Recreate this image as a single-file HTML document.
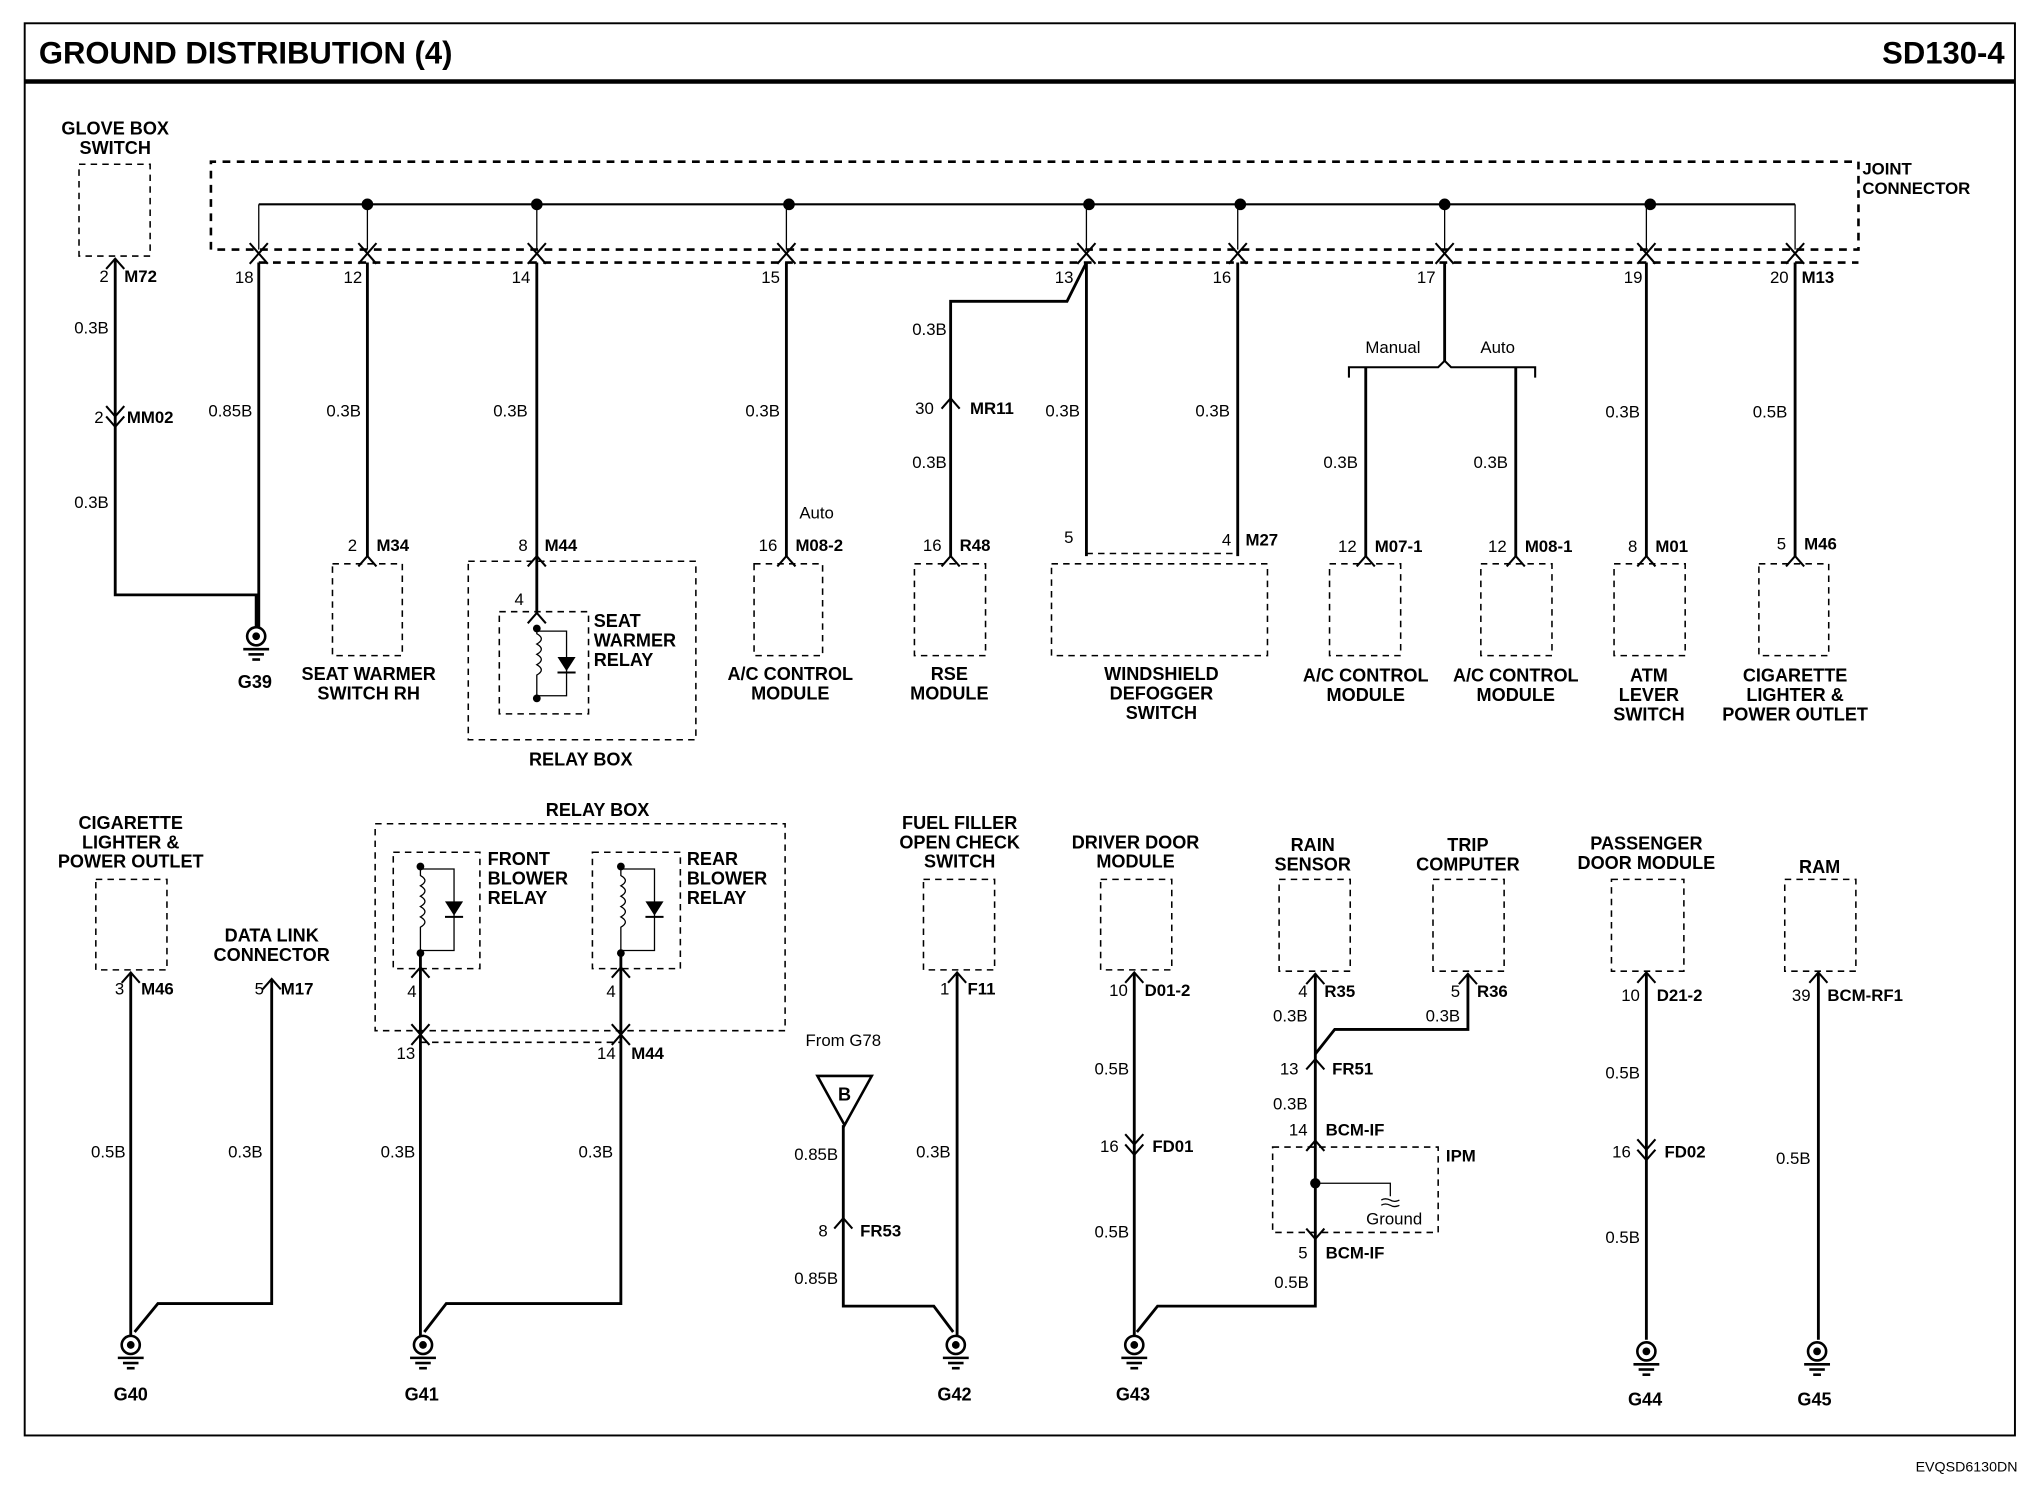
<!DOCTYPE html>
<html><head><meta charset="utf-8"><style>
html,body{margin:0;padding:0;background:#fff;}
svg{display:block;}
text{font-family:"Liberation Sans",Arial,sans-serif;fill:#000;}
.b{font-weight:bold;font-size:14px;}
.n{font-size:13px;}
.w{fill:none;stroke:#000;stroke-width:2.2;}
.t{fill:none;stroke:#000;stroke-width:1;}
.d{fill:none;stroke:#000;stroke-width:2;stroke-dasharray:6,5;}
.dt{fill:none;stroke:#000;stroke-width:1.2;stroke-dasharray:5,4;}
</style></head><body>
<svg width="2028" height="1504" viewBox="0 0 1568 1163" xmlns="http://www.w3.org/2000/svg">
<defs>
<g id="gnd"><circle cx="0" cy="0" r="7" fill="#fff" stroke="#000" stroke-width="2"/><circle cx="0" cy="0" r="3" fill="#000"/><line x1="-10" y1="10" x2="10" y2="10" stroke="#000" stroke-width="2"/><line x1="-6" y1="14" x2="6" y2="14" stroke="#000" stroke-width="2"/><line x1="-3" y1="18" x2="3" y2="18" stroke="#000" stroke-width="2"/></g>
<path id="vu" d="M-7,-8 L0,0 L7,-8" fill="none" stroke="#000" stroke-width="1.6"/>
<path id="va" d="M-7,8 L0,0 L7,8" fill="none" stroke="#000" stroke-width="1.6"/>
</defs>
<!-- frame -->
<rect x="19" y="18" width="1539" height="1092" fill="none" stroke="#000" stroke-width="1.5"/>
<line x1="19" y1="63" x2="1558" y2="63" stroke="#000" stroke-width="3.5"/>
<text x="30" y="49" style="font-size:24px;font-weight:bold">GROUND DISTRIBUTION (4)</text>
<text x="1550" y="49" text-anchor="end" style="font-size:24px;font-weight:bold">SD130-4</text>
<text x="1560" y="1138" text-anchor="end" style="font-size:11px">EVQSD6130DN</text>

<!-- joint connector -->
<path class="d" d="M163,193 L163,125 L1437,125 L1437,193 L163,193"/>
<line class="d" x1="200" y1="203" x2="1437" y2="203"/>
<text x="1440" y="135" class="b" style="font-size:13px">JOINT</text>
<text x="1440" y="150" class="b" style="font-size:13px">CONNECTOR</text>
<line class="w" x1="200" y1="158" x2="1388" y2="158" style="stroke-width:1.6"/>
<line class="t" x1="200" y1="158" x2="200" y2="193"/>
<line class="t" x1="1388" y1="158" x2="1388" y2="193"/>
<g fill="#000"><circle cx="284" cy="158" r="4.5"/><circle cx="415" cy="158" r="4.5"/><circle cx="610" cy="158" r="4.5"/><circle cx="842" cy="158" r="4.5"/><circle cx="959" cy="158" r="4.5"/><circle cx="1117" cy="158" r="4.5"/><circle cx="1276" cy="158" r="4.5"/></g>
<g class="t"><line x1="284" y1="158" x2="284" y2="193"/><line x1="415" y1="158" x2="415" y2="193"/><line x1="608" y1="158" x2="608" y2="193"/><line x1="840" y1="158" x2="840" y2="193"/><line x1="957" y1="158" x2="957" y2="193"/><line x1="1117" y1="158" x2="1117" y2="193"/><line x1="1273" y1="158" x2="1273" y2="193"/></g>
<g>
<use href="#vu" x="200" y="196"/><use href="#va" x="200" y="196"/>
<use href="#vu" x="284" y="196"/><use href="#va" x="284" y="196"/>
<use href="#vu" x="415" y="196"/><use href="#va" x="415" y="196"/>
<use href="#vu" x="608" y="196"/><use href="#va" x="608" y="196"/>
<use href="#vu" x="840" y="196"/><use href="#va" x="840" y="196"/>
<use href="#vu" x="957" y="196"/><use href="#va" x="957" y="196"/>
<use href="#vu" x="1117" y="196"/><use href="#va" x="1117" y="196"/>
<use href="#vu" x="1273" y="196"/><use href="#va" x="1273" y="196"/>
<use href="#vu" x="1388" y="196"/><use href="#va" x="1388" y="196"/>
</g>
<g class="n" text-anchor="end">
<text x="196" y="219">18</text><text x="280" y="219">12</text><text x="410" y="219">14</text><text x="603" y="219">15</text><text x="830" y="219">13</text><text x="952" y="219">16</text><text x="1110" y="219">17</text><text x="1270" y="219">19</text><text x="1383" y="219">20</text>
</g>
<text x="1393" y="219" class="b" style="font-size:13px">M13</text>

<!-- glove box -->
<text x="89" y="104" class="b" text-anchor="middle">GLOVE BOX</text>
<text x="89" y="119" class="b" text-anchor="middle">SWITCH</text>
<rect class="dt" x="61" y="127" width="55" height="71"/>
<use href="#va" x="89" y="200"/>
<path class="w" d="M89,200 L89,460 L198,460 L198,485"/>
<text x="84" y="218" class="n" text-anchor="end">2</text><text x="96" y="218" class="b" style="font-size:13px">M72</text>
<text x="84" y="258" class="n" text-anchor="end">0.3B</text>
<use href="#vu" x="89" y="330"/><use href="#vu" x="89" y="322"/>
<text x="80" y="327" class="n" text-anchor="end">2</text><text x="98" y="327" class="b" style="font-size:13px">MM02</text>
<text x="84" y="393" class="n" text-anchor="end">0.3B</text>
<line class="w" x1="200" y1="203" x2="200" y2="485"/>
<text x="195" y="322" class="n" text-anchor="end">0.85B</text>
<use href="#gnd" x="198" y="492"/>
<text x="197" y="532" class="b" text-anchor="middle">G39</text>

<!-- M34 -->
<line class="w" x1="284" y1="203" x2="284" y2="430"/>
<text x="279" y="322" class="n" text-anchor="end">0.3B</text>
<use href="#va" x="284" y="430"/>
<text x="276" y="426" class="n" text-anchor="end">2</text><text x="291" y="426" class="b" style="font-size:13px">M34</text>
<rect class="dt" x="257" y="436" width="54" height="71"/>
<text x="285" y="526" class="b" text-anchor="middle">SEAT WARMER</text>
<text x="285" y="541" class="b" text-anchor="middle">SWITCH RH</text>

<!-- relay box top -->
<line class="w" x1="415" y1="203" x2="415" y2="430"/>
<text x="408" y="322" class="n" text-anchor="end">0.3B</text>
<use href="#va" x="415" y="430"/>
<text x="408" y="426" class="n" text-anchor="end">8</text><text x="421" y="426" class="b" style="font-size:13px">M44</text>
<rect class="dt" x="362" y="434" width="176" height="138"/>
<rect class="dt" x="386" y="473" width="69" height="79"/>
<line class="w" x1="415" y1="430" x2="415" y2="475"/>
<use href="#va" x="415" y="474"/>
<text x="405" y="468" class="n" text-anchor="end">4</text>
<path class="t" d="M415,486 L415,490 q7,4 0,8 q7,4 0,8 q7,4 0,8 q7,4 0,8 L415,540"/>
<circle cx="415" cy="486" r="3" fill="#000"/><circle cx="415" cy="540" r="3" fill="#000"/>
<path class="t" d="M415,488 L438,488 L438,538 L415,538"/>
<path d="M431,508 L445,508 L438,519 Z" fill="#000"/><line x1="431" y1="520" x2="445" y2="520" stroke="#000" stroke-width="1.5"/>
<text x="459" y="485" class="b">SEAT</text><text x="459" y="500" class="b">WARMER</text><text x="459" y="515" class="b">RELAY</text>
<text x="449" y="592" class="b" text-anchor="middle">RELAY BOX</text>

<!-- M08-2 -->
<line class="w" x1="608" y1="203" x2="608" y2="430"/>
<text x="603" y="322" class="n" text-anchor="end">0.3B</text>
<text x="618" y="401" class="n">Auto</text>
<use href="#va" x="608" y="430"/>
<text x="601" y="426" class="n" text-anchor="end">16</text><text x="615" y="426" class="b" style="font-size:13px">M08-2</text>
<rect class="dt" x="583" y="436" width="53" height="71"/>
<text x="611" y="526" class="b" text-anchor="middle">A/C CONTROL</text>
<text x="611" y="541" class="b" text-anchor="middle">MODULE</text>

<!-- RSE -->
<path class="w" d="M840,203 L825,233 L735,233 L735,430"/>
<text x="732" y="259" class="n" text-anchor="end">0.3B</text>
<use href="#va" x="735" y="308"/>
<text x="722" y="320" class="n" text-anchor="end">30</text><text x="750" y="320" class="b" style="font-size:13px">MR11</text>
<text x="732" y="362" class="n" text-anchor="end">0.3B</text>
<use href="#va" x="735" y="430"/>
<text x="728" y="426" class="n" text-anchor="end">16</text><text x="742" y="426" class="b" style="font-size:13px">R48</text>
<rect class="dt" x="707" y="436" width="55" height="71"/>
<text x="734" y="526" class="b" text-anchor="middle">RSE</text>
<text x="734" y="541" class="b" text-anchor="middle">MODULE</text>

<!-- windshield -->
<line class="w" x1="840" y1="203" x2="840" y2="430"/>
<line class="w" x1="957" y1="203" x2="957" y2="430"/>
<text x="835" y="322" class="n" text-anchor="end">0.3B</text>
<text x="951" y="322" class="n" text-anchor="end">0.3B</text>
<text x="830" y="420" class="n" text-anchor="end">5</text>
<text x="952" y="422" class="n" text-anchor="end">4</text><text x="963" y="422" class="b" style="font-size:13px">M27</text>
<line class="dt" x1="840" y1="428" x2="957" y2="428"/>
<rect class="dt" x="813" y="436" width="167" height="71"/>
<text x="898" y="526" class="b" text-anchor="middle">WINDSHIELD</text>
<text x="898" y="541" class="b" text-anchor="middle">DEFOGGER</text>
<text x="898" y="556" class="b" text-anchor="middle">SWITCH</text>

<!-- pin 17 split -->
<path class="w" d="M1117,203 L1117,280"/>
<path class="t" style="stroke-width:1.6" d="M1043,292 L1043,284 L1112,284 L1117,279 L1122,284 L1187,284 L1187,292"/>
<text x="1077" y="273" class="n" text-anchor="middle">Manual</text>
<text x="1158" y="273" class="n" text-anchor="middle">Auto</text>
<line class="w" x1="1056" y1="284" x2="1056" y2="430"/>
<line class="w" x1="1172" y1="284" x2="1172" y2="430"/>
<text x="1050" y="362" class="n" text-anchor="end">0.3B</text>
<text x="1166" y="362" class="n" text-anchor="end">0.3B</text>
<use href="#va" x="1056" y="430"/><use href="#va" x="1172" y="430"/>
<text x="1049" y="427" class="n" text-anchor="end">12</text><text x="1063" y="427" class="b" style="font-size:13px">M07-1</text>
<text x="1165" y="427" class="n" text-anchor="end">12</text><text x="1179" y="427" class="b" style="font-size:13px">M08-1</text>
<rect class="dt" x="1028" y="436" width="55" height="71"/>
<rect class="dt" x="1145" y="436" width="55" height="71"/>
<text x="1056" y="527" class="b" text-anchor="middle">A/C CONTROL</text><text x="1056" y="542" class="b" text-anchor="middle">MODULE</text>
<text x="1172" y="527" class="b" text-anchor="middle">A/C CONTROL</text><text x="1172" y="542" class="b" text-anchor="middle">MODULE</text>

<!-- M01 -->
<line class="w" x1="1273" y1="203" x2="1273" y2="430"/>
<text x="1268" y="323" class="n" text-anchor="end">0.3B</text>
<use href="#va" x="1273" y="430"/>
<text x="1266" y="427" class="n" text-anchor="end">8</text><text x="1280" y="427" class="b" style="font-size:13px">M01</text>
<rect class="dt" x="1248" y="436" width="55" height="71"/>
<text x="1275" y="527" class="b" text-anchor="middle">ATM</text><text x="1275" y="542" class="b" text-anchor="middle">LEVER</text><text x="1275" y="557" class="b" text-anchor="middle">SWITCH</text>

<!-- M46 -->
<line class="w" x1="1388" y1="203" x2="1388" y2="430"/>
<text x="1382" y="323" class="n" text-anchor="end">0.5B</text>
<use href="#va" x="1388" y="430"/>
<text x="1381" y="425" class="n" text-anchor="end">5</text><text x="1395" y="425" class="b" style="font-size:13px">M46</text>
<rect class="dt" x="1360" y="436" width="54" height="71"/>
<text x="1388" y="527" class="b" text-anchor="middle">CIGARETTE</text><text x="1388" y="542" class="b" text-anchor="middle">LIGHTER &amp;</text><text x="1388" y="557" class="b" text-anchor="middle">POWER OUTLET</text>

<!-- ===== bottom ===== -->
<text x="101" y="641" class="b" text-anchor="middle">CIGARETTE</text><text x="101" y="656" class="b" text-anchor="middle">LIGHTER &amp;</text><text x="101" y="671" class="b" text-anchor="middle">POWER OUTLET</text>
<rect class="dt" x="74" y="680" width="55" height="70"/>
<use href="#va" x="101" y="752"/>
<text x="96" y="769" class="n" text-anchor="end">3</text><text x="109" y="769" class="b" style="font-size:13px">M46</text>
<text x="210" y="728" class="b" text-anchor="middle">DATA LINK</text><text x="210" y="743" class="b" text-anchor="middle">CONNECTOR</text>
<use href="#va" x="210" y="757"/>
<text x="204" y="769" class="n" text-anchor="end">5</text><text x="217" y="769" class="b" style="font-size:13px">M17</text>
<path class="w" d="M101,752 L101,1033"/>
<path class="w" d="M210,757 L210,1008 L122,1008 L104,1030"/>
<text x="97" y="895" class="n" text-anchor="end">0.5B</text>
<text x="203" y="895" class="n" text-anchor="end">0.3B</text>
<use href="#gnd" x="101" y="1040"/>
<text x="101" y="1083" class="b" text-anchor="middle">G40</text>

<!-- relay box bottom -->
<text x="462" y="631" class="b" text-anchor="middle">RELAY BOX</text>
<rect class="dt" x="290" y="637" width="317" height="160"/>
<rect class="dt" x="304" y="659" width="67" height="90"/>
<rect class="dt" x="458" y="659" width="68" height="90"/>
<path class="t" d="M325,670 L325,677 q7,4 0,8 q7,4 0,8 q7,4 0,8 q7,4 0,8 q7,4 0,8 L325,737"/>
<circle cx="325" cy="670" r="3" fill="#000"/><circle cx="325" cy="737" r="3" fill="#000"/>
<path class="t" d="M325,672 L351,672 L351,735 L325,735"/>
<path d="M344,697 L358,697 L351,708 Z" fill="#000"/><line x1="344" y1="709" x2="358" y2="709" stroke="#000" stroke-width="1.5"/>
<path class="t" d="M480,670 L480,677 q7,4 0,8 q7,4 0,8 q7,4 0,8 q7,4 0,8 q7,4 0,8 L480,737"/>
<circle cx="480" cy="670" r="3" fill="#000"/><circle cx="480" cy="737" r="3" fill="#000"/>
<path class="t" d="M480,672 L506,672 L506,735 L480,735"/>
<path d="M499,697 L513,697 L506,708 Z" fill="#000"/><line x1="499" y1="709" x2="513" y2="709" stroke="#000" stroke-width="1.5"/>
<text x="377" y="669" class="b">FRONT</text><text x="377" y="684" class="b">BLOWER</text><text x="377" y="699" class="b">RELAY</text>
<text x="531" y="669" class="b">REAR</text><text x="531" y="684" class="b">BLOWER</text><text x="531" y="699" class="b">RELAY</text>
<line class="w" x1="325" y1="737" x2="325" y2="1033"/>
<path class="w" d="M480,737 L480,1008 L345,1008 L328,1030"/>
<use href="#va" x="325" y="748"/><use href="#va" x="480" y="748"/>
<text x="322" y="771" class="n" text-anchor="end">4</text><text x="476" y="771" class="n" text-anchor="end">4</text>
<use href="#va" x="325" y="800"/><use href="#vu" x="325" y="800"/>
<use href="#va" x="480" y="800"/><use href="#vu" x="480" y="800"/>
<line class="dt" x1="325" y1="806" x2="480" y2="806"/>
<text x="321" y="819" class="n" text-anchor="end">13</text>
<text x="476" y="819" class="n" text-anchor="end">14</text><text x="488" y="819" class="b" style="font-size:13px">M44</text>
<text x="321" y="895" class="n" text-anchor="end">0.3B</text>
<text x="474" y="895" class="n" text-anchor="end">0.3B</text>
<use href="#gnd" x="327" y="1040"/>
<text x="326" y="1083" class="b" text-anchor="middle">G41</text>

<!-- From G78 -->
<text x="652" y="809" class="n" text-anchor="middle">From G78</text>
<path d="M632,832 L674,832 L653,870 Z" fill="#fff" stroke="#000" stroke-width="2"/>
<text x="653" y="851" class="b" text-anchor="middle">B</text>
<path class="w" d="M652,870 L652,1010 L722,1010 L737,1030"/>
<text x="648" y="897" class="n" text-anchor="end">0.85B</text>
<use href="#va" x="652" y="942"/>
<text x="640" y="956" class="n" text-anchor="end">8</text><text x="665" y="956" class="b" style="font-size:13px">FR53</text>
<text x="648" y="993" class="n" text-anchor="end">0.85B</text>

<!-- F11 -->
<text x="742" y="641" class="b" text-anchor="middle">FUEL FILLER</text><text x="742" y="656" class="b" text-anchor="middle">OPEN CHECK</text><text x="742" y="671" class="b" text-anchor="middle">SWITCH</text>
<rect class="dt" x="714" y="680" width="55" height="70"/>
<use href="#va" x="740" y="752"/>
<text x="734" y="769" class="n" text-anchor="end">1</text><text x="748" y="769" class="b" style="font-size:13px">F11</text>
<line class="w" x1="740" y1="752" x2="740" y2="1033"/>
<text x="735" y="895" class="n" text-anchor="end">0.3B</text>
<use href="#gnd" x="739" y="1040"/>
<text x="738" y="1083" class="b" text-anchor="middle">G42</text>

<!-- Driver door -->
<text x="878" y="656" class="b" text-anchor="middle">DRIVER DOOR</text><text x="878" y="671" class="b" text-anchor="middle">MODULE</text>
<rect class="dt" x="851" y="680" width="55" height="70"/>
<use href="#va" x="877" y="752"/>
<text x="872" y="770" class="n" text-anchor="end">10</text><text x="885" y="770" class="b" style="font-size:13px">D01-2</text>
<line class="w" x1="877" y1="752" x2="877" y2="1033"/>
<text x="873" y="831" class="n" text-anchor="end">0.5B</text>
<use href="#vu" x="877" y="893"/><use href="#vu" x="877" y="885"/>
<text x="865" y="891" class="n" text-anchor="end">16</text><text x="891" y="891" class="b" style="font-size:13px">FD01</text>
<text x="873" y="957" class="n" text-anchor="end">0.5B</text>
<use href="#gnd" x="877" y="1040"/>
<text x="876" y="1083" class="b" text-anchor="middle">G43</text>

<!-- rain / trip / IPM -->
<text x="1015" y="658" class="b" text-anchor="middle">RAIN</text><text x="1015" y="673" class="b" text-anchor="middle">SENSOR</text>
<text x="1135" y="658" class="b" text-anchor="middle">TRIP</text><text x="1135" y="673" class="b" text-anchor="middle">COMPUTER</text>
<rect class="dt" x="989" y="680" width="55" height="71"/>
<rect class="dt" x="1108" y="680" width="55" height="71"/>
<use href="#va" x="1017" y="753"/><use href="#va" x="1135" y="753"/>
<text x="1011" y="771" class="n" text-anchor="end">4</text><text x="1024" y="771" class="b" style="font-size:13px">R35</text>
<text x="1129" y="771" class="n" text-anchor="end">5</text><text x="1142" y="771" class="b" style="font-size:13px">R36</text>
<path class="w" d="M1135,753 L1135,796 L1032,796 L1017,815"/>
<path class="w" d="M1017,753 L1017,1010 L895,1010 L879,1030"/>
<text x="1011" y="790" class="n" text-anchor="end">0.3B</text>
<text x="1129" y="790" class="n" text-anchor="end">0.3B</text>
<use href="#va" x="1017" y="819"/>
<text x="1004" y="831" class="n" text-anchor="end">13</text><text x="1030" y="831" class="b" style="font-size:13px">FR51</text>
<text x="1011" y="858" class="n" text-anchor="end">0.3B</text>
<use href="#va" x="1017" y="882"/>
<text x="1011" y="878" class="n" text-anchor="end">14</text><text x="1025" y="878" class="b" style="font-size:13px">BCM-IF</text>
<rect class="dt" x="984" y="887" width="128" height="66"/>
<text x="1118" y="898" class="b" style="font-size:13px">IPM</text>
<circle cx="1017" cy="915" r="4" fill="#000"/>
<path class="t" d="M1017,915 L1075,915 L1075,925"/>
<path class="t" d="M1068,928 q3,-2 7,0 q3,2 7,0 M1068,932 q3,-2 7,0 q3,2 7,0"/>
<text x="1078" y="947" class="n" text-anchor="middle">Ground</text>
<use href="#vu" x="1017" y="958"/>
<text x="1011" y="973" class="n" text-anchor="end">5</text><text x="1025" y="973" class="b" style="font-size:13px">BCM-IF</text>
<text x="1012" y="996" class="n" text-anchor="end">0.5B</text>

<!-- passenger door -->
<text x="1273" y="657" class="b" text-anchor="middle">PASSENGER</text><text x="1273" y="672" class="b" text-anchor="middle">DOOR MODULE</text>
<rect class="dt" x="1246" y="680" width="56" height="71"/>
<use href="#va" x="1273" y="752"/>
<text x="1268" y="774" class="n" text-anchor="end">10</text><text x="1281" y="774" class="b" style="font-size:13px">D21-2</text>
<line class="w" x1="1273" y1="752" x2="1273" y2="1036"/>
<text x="1268" y="834" class="n" text-anchor="end">0.5B</text>
<use href="#vu" x="1273" y="897"/><use href="#vu" x="1273" y="889"/>
<text x="1261" y="895" class="n" text-anchor="end">16</text><text x="1287" y="895" class="b" style="font-size:13px">FD02</text>
<text x="1268" y="961" class="n" text-anchor="end">0.5B</text>
<use href="#gnd" x="1273" y="1045"/>
<text x="1272" y="1087" class="b" text-anchor="middle">G44</text>

<!-- RAM -->
<text x="1407" y="675" class="b" text-anchor="middle">RAM</text>
<rect class="dt" x="1380" y="680" width="55" height="71"/>
<use href="#va" x="1406" y="752"/>
<text x="1400" y="774" class="n" text-anchor="end">39</text><text x="1413" y="774" class="b" style="font-size:13px">BCM-RF1</text>
<line class="w" x1="1406" y1="752" x2="1406" y2="1036"/>
<text x="1400" y="900" class="n" text-anchor="end">0.5B</text>
<use href="#gnd" x="1405" y="1045"/>
<text x="1403" y="1087" class="b" text-anchor="middle">G45</text>
</svg>
</body></html>
